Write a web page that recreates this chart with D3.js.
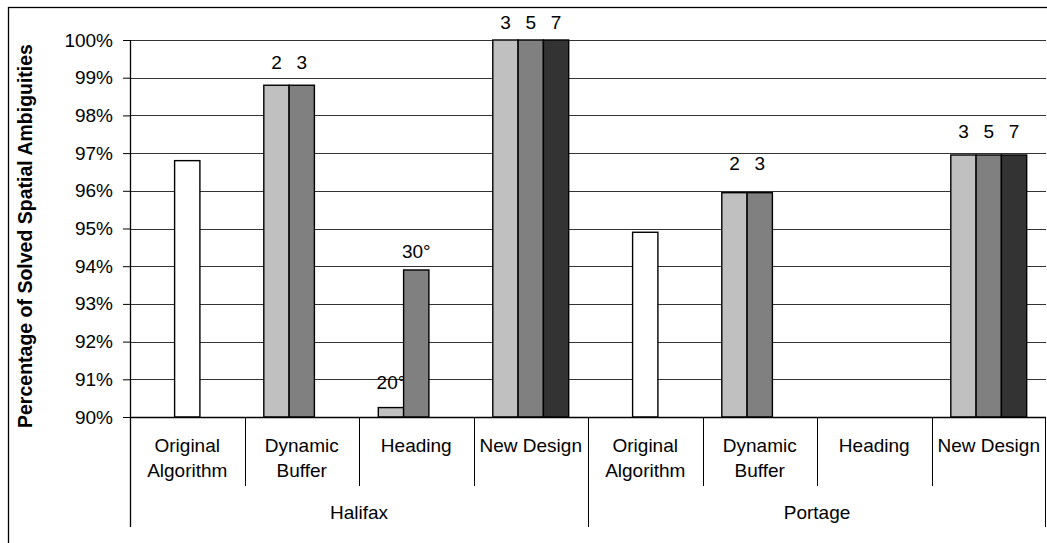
<!DOCTYPE html>
<html>
<head>
<meta charset="utf-8">
<script src="https://cdn.jsdelivr.net/npm/d3@7"></script>
<style>
  html, body { margin: 0; padding: 0; background: #fff; }
  text { font-family: Arial, "Liberation Sans", sans-serif; fill: #000; }
</style>
</head>
<body>
<svg id="chart" width="1047" height="543"></svg>
<script>
// ---- data ----
const groups = ["Halifax", "Portage"];
const subCategories = ["Original Algorithm", "Dynamic Buffer", "Heading", "New Design"];
const categories = ["H-Original", "H-Dynamic", "H-Heading", "H-New", "P-Original", "P-Dynamic", "P-Heading", "P-New"];
const categoryLabels = [["Original", "Algorithm"], ["Dynamic", "Buffer"], ["Heading"], ["New Design"],
                        ["Original", "Algorithm"], ["Dynamic", "Buffer"], ["Heading"], ["New Design"]];
const originalValues = [96.8, null, null, null, 94.9, null, null, null];
const series1Values = [null, 98.8, 90.25, 100, null, 95.95, null, 96.95];
const series2Values = [null, 98.8, 93.9, 100, null, 95.95, null, 96.95];
const series3Values = [null, null, null, 100, null, null, null, 96.95];
const series1Labels = ["", "2", "20°", "3", "", "2", "", "3"];
const series2Labels = ["", "3", "30°", "5", "", "3", "", "5"];
const series3Labels = ["", "", "", "7", "", "", "", "7"];
const yTicks = [90, 91, 92, 93, 94, 95, 96, 97, 98, 99, 100];
const yTitle = "Percentage of Solved Spatial Ambiguities";

// label lift above bar top (style)
const lift1 = [0, 16, 19, 11, 0, 23, 0, 17];
const lift2 = [0, 16, 12, 11, 0, 23, 0, 17];
const lift3 = [0, 0, 0, 11, 0, 0, 0, 17];

const svg = d3.select("#chart");
const pLeft = 130, pRight = 1046, pTop = 40, pBottom = 417;
const fs = 19;

// outer chart border
svg.append("rect").attr("x", 8.5).attr("y", 7.5).attr("width", 1200).attr("height", 700)
  .attr("fill", "none").attr("stroke", "#000").attr("stroke-width", 1.3);

const x = d3.scaleBand().domain(categories).range([pLeft, pRight]).padding(0);
const slot = d3.scaleBand().domain([0, 1, 2]).range([0, x.bandwidth()]).paddingInner(0).paddingOuter(0.763);
const y = d3.scaleLinear().domain([90, 100]).range([pBottom, pTop]);

// gridlines
svg.append("g").selectAll("line").data(yTicks.slice(1)).join("line")
  .attr("x1", pLeft).attr("x2", pRight)
  .attr("y1", d => Math.round(y(d)) + 0.5).attr("y2", d => Math.round(y(d)) + 0.5)
  .attr("stroke", "#333").attr("stroke-width", 1);

// y axis
const yAxis = d3.axisLeft(y).tickValues(yTicks).tickFormat(d => d + "%").tickSize(7).tickPadding(10);
const ya = svg.append("g").attr("transform", `translate(${pLeft},0)`).call(yAxis);
ya.select(".domain").remove();
ya.selectAll("line").attr("stroke", "#000");
ya.selectAll("text").attr("font-size", fs).attr("font-family", "Arial, 'Liberation Sans', sans-serif").attr("fill", "#000");

// y title
svg.append("text")
  .attr("transform", `translate(32,236) rotate(-90)`)
  .attr("text-anchor", "middle")
  .attr("font-size", 19.5).attr("font-weight", "bold")
  .text(yTitle);

// labels (drawn before bars so bars overlap them)
const labelsLayer = svg.append("g").attr("font-size", fs).attr("text-anchor", "middle");
function addLabels(values, labels, lifts, slotIdx) {
  categories.forEach((c, i) => {
    if (values[i] == null || !labels[i]) return;
    labelsLayer.append("text")
      .attr("x", x(c) + slot(slotIdx) + slot.bandwidth() / 2)
      .attr("y", y(values[i]) - lifts[i])
      .text(labels[i]);
  });
}
addLabels(series1Values, series1Labels, lift1, 0);
addLabels(series2Values, series2Labels, lift2, 1);
addLabels(series3Values, series3Labels, lift3, 2);

// bars
const barsLayer = svg.append("g");
function addBars(values, slotIdx, fill) {
  barsLayer.append("g").selectAll("rect")
    .data(categories.map((c, i) => ({ c, v: values[i] })).filter(d => d.v != null))
    .join("rect")
    .attr("x", d => x(d.c) + slot(slotIdx))
    .attr("width", slot.bandwidth())
    .attr("y", d => y(d.v))
    .attr("height", d => y(90) - y(d.v))
    .attr("fill", fill).attr("stroke", "#000").attr("stroke-width", 1.4);
}
addBars(originalValues, 1, "#ffffff");
addBars(series1Values, 0, "#c0c0c0");
addBars(series2Values, 1, "#808080");
addBars(series3Values, 2, "#333333");

// axes lines
svg.append("line").attr("x1", pLeft).attr("x2", pRight).attr("y1", pBottom + 0.5).attr("y2", pBottom + 0.5)
  .attr("stroke", "#000").attr("stroke-width", 1.3);
svg.append("line").attr("x1", pLeft + 0.5).attr("x2", pLeft + 0.5).attr("y1", pTop).attr("y2", 527)
  .attr("stroke", "#000").attr("stroke-width", 1.3);

// category separators
categories.forEach((c, i) => {
  if (i === 0) return;
  const xx = Math.round(x(c)) + 0.5;
  const isGroup = i % subCategories.length === 0;
  svg.append("line").attr("x1", xx).attr("x2", xx).attr("y1", pBottom).attr("y2", isGroup ? 527 : 486)
    .attr("stroke", "#000").attr("stroke-width", 1);
});
svg.append("line").attr("x1", pRight - 0.5).attr("x2", pRight - 0.5).attr("y1", pBottom).attr("y2", 527)
  .attr("stroke", "#000").attr("stroke-width", 1);

// category labels
const catLayer = svg.append("g").attr("font-size", fs).attr("text-anchor", "middle");
categories.forEach((c, i) => {
  const cx = x(c) + x.bandwidth() / 2;
  categoryLabels[i].forEach((line, j) => {
    catLayer.append("text").attr("x", cx).attr("y", 452 + j * 25).text(line);
  });
});

// group labels
const gw = (pRight - pLeft) / groups.length;
groups.forEach((g, i) => {
  catLayer.append("text").attr("x", pLeft + gw * i + gw / 2).attr("y", 519).text(g);
});
</script>
</body>
</html>
